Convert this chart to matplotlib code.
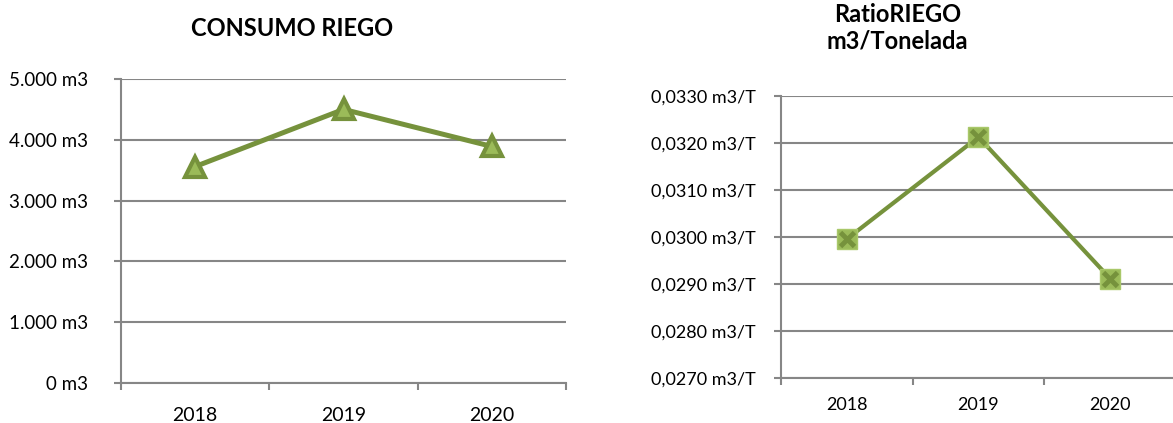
import matplotlib
matplotlib.use("Agg")
import matplotlib.pyplot as plt
from matplotlib.ticker import FuncFormatter, FixedLocator

years = ["2018", "2019", "2020"]
consumo_m3 = [3560, 4500, 3890]
ratio_m3_t = [0.02995, 0.03212, 0.02911]

line_green = "#76923C"
fill_green = "#9BBB59"
axis_gray = "#868686"

plt.rcParams["font.family"] = ["Lato", "DejaVu Sans"]


def miles(v, pos):
    return "{:,.0f} m3".format(v).replace(",", ".")


def ratio(v, pos):
    return "{:.4f} m3/T".format(v).replace(".", ",")


def style_axes(ax, n, tick_pad_y, tick_pad_x, ysize, xsize):
    for side in ["top", "right"]:
        ax.spines[side].set_visible(False)
    for side in ["left", "bottom"]:
        ax.spines[side].set_color(axis_gray)
        ax.spines[side].set_linewidth(1.5)
    ax.grid(axis="y", color=axis_gray, linewidth=1.5)
    ax.set_axisbelow(True)
    ax.set_xlim(-0.5, n - 0.5)
    ax.set_xticks(range(n))
    ax.set_xticklabels(years)
    # category boundaries get the tick marks, labels stay centred
    ax.xaxis.set_minor_locator(FixedLocator([i - 0.5 for i in range(n + 1)]))
    ax.tick_params(axis="x", which="major", length=0, pad=tick_pad_x + 5, labelsize=xsize)
    ax.tick_params(axis="x", which="minor", length=5, width=1.5, color=axis_gray)
    ax.tick_params(axis="y", length=5, width=1.5, color=axis_gray, pad=tick_pad_y, labelsize=ysize)


fig = plt.figure(figsize=(11.73, 4.23), dpi=100)

# consumo total
ax1 = fig.add_axes([0.1032, 0.0946, 0.3794, 0.7187])
x = range(len(years))
ax1.plot(x, consumo_m3, color=line_green, linewidth=3.6, marker="^", markersize=15,
         markerfacecolor=fill_green, markeredgecolor=line_green, markeredgewidth=3, zorder=3)
ax1.set_ylim(0, 5000)
ax1.set_yticks(range(0, 5001, 1000))
ax1.yaxis.set_major_formatter(FuncFormatter(miles))
style_axes(ax1, len(years), 19, 12, 13.5, 14)
fig.text(0.2494, 0.932, "CONSUMO RIEGO", ha="center", va="center", fontsize=17, fontweight="bold")

# ratio por tonelada
ax2 = fig.add_axes([0.6658, 0.1071, 0.3367, 0.6667])
ax2.plot(x, ratio_m3_t, color=line_green, linewidth=3, marker="s", markersize=15,
         markerfacecolor=fill_green, markeredgecolor="#A9C86A", markeredgewidth=1, zorder=3)
ax2.plot(x, ratio_m3_t, linestyle="none", marker="x", markersize=10,
         markeredgecolor=line_green, markeredgewidth=3.5, zorder=4)
ax2.set_ylim(0.027, 0.033)
ax2.set_yticks([0.027, 0.028, 0.029, 0.030, 0.031, 0.032, 0.033])
ax2.yaxis.set_major_formatter(FuncFormatter(ratio))
style_axes(ax2, len(years), 13, 9, 13, 13)
fig.text(0.7652, 0.934, "RatioRIEGO\nm3/Tonelada", ha="center", va="center", fontsize=17,
         fontweight="bold", linespacing=1.2)

fig.savefig("out.png", dpi=100)
